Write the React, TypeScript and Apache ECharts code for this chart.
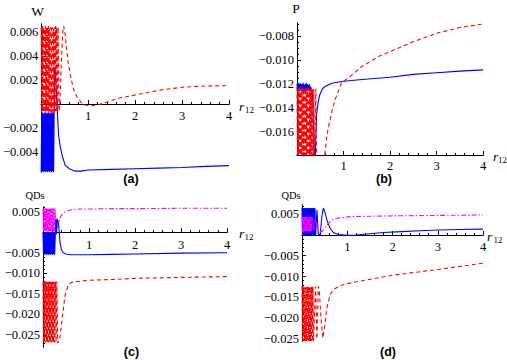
import React, { useEffect, useRef } from "react";
import * as echarts from "echarts";

// shared sampling positions of the dense oscillation near r12 = 0
const oscX = [0, 0.011, 0.022, 0.033, 0.044, 0.055, 0.066, 0.077, 0.088, 0.099, 0.11, 0.121, 0.132, 0.143, 0.154, 0.165, 0.176, 0.187, 0.198, 0.209, 0.22, 0.231, 0.242, 0.253, 0.264, 0.275, 0.286, 0.297, 0.308, 0.319, 0.33];

// ---------- panel (a): W ----------
const aRedOsc = [0.0064, -0.0007, 0.0065, -0.0006, 0.0064, -0.0007, 0.0063, -0.0007, 0.0065, -0.0007, 0.0064, -0.0006, 0.0064, -0.0007, 0.0065, -0.0007, 0.0063, -0.0006, 0.0064, -0.0007, 0.0065, -0.0007, 0.0064, -0.0006, 0.0063, -0.0007, 0.0064, -0.0006, 0.0065, -0.0007, 0.0064];
const aRedTailX = [0.345, 0.36, 0.38, 0.4, 0.43, 0.46, 0.48, 0.51, 0.55, 0.58, 0.65, 0.7, 0.76, 0.86, 0.95, 1.05, 1.2, 1.35, 1.63, 2.0, 2.55, 3.0, 3.5, 4.0];
const aRedTailY = [-0.0006, 0.0064, -0.0006, 0.0002, 0.0035, 0.006, 0.0065, 0.0058, 0.0043, 0.0033, 0.0019, 0.0011, 0.0006, 0.0001, -0.0001, -0.00015, -0.00008, 0.0001, 0.00047, 0.00075, 0.00117, 0.0014, 0.0015, 0.00153];
const aBlueOsc = [-0.0057, -0.0007, -0.0056, -0.0007, -0.0057, -0.0008, -0.0056, -0.0007, -0.0057, -0.0007, -0.0056, -0.0008, -0.0057, -0.0007, -0.0056, -0.0007, -0.0057, -0.0008, -0.0056, -0.0007, -0.0057, -0.0007, -0.0056, -0.0007];
const aBlueTailX = [0.265, 0.285, 0.3, 0.32, 0.34, 0.37, 0.4, 0.44, 0.51, 0.6, 0.72, 0.85, 1.0, 1.5, 2.0, 2.5, 3.0, 3.5, 4.0];
const aBlueTailY = [-0.0057, 0.0031, 0.0028, 0.0013, -0.0003, -0.0026, -0.0034, -0.0042, -0.0051, -0.0054, -0.0056, -0.0056, -0.0055, -0.00545, -0.0054, -0.00535, -0.0053, -0.0052, -0.00514];
const aYTicks = [-0.004, -0.002, 0.002, 0.004, 0.006];

// ---------- panel (b): P ----------
const bBlueOsc = [-0.012, -0.0126, -0.0119, -0.0125, -0.0121, -0.0126, -0.0119, -0.0125, -0.012, -0.0126, -0.012, -0.0125, -0.0119, -0.0126, -0.0121, -0.0125, -0.012, -0.0126, -0.0119, -0.0125, -0.012, -0.0126, -0.0121, -0.0125, -0.012, -0.0126, -0.0122];
const bBlueTailX = [0.3, 0.33, 0.355, 0.37, 0.39, 0.42, 0.46, 0.49, 0.55, 0.6, 0.75, 0.96, 1.4, 2.0, 2.5, 3.0, 3.5, 4.0];
const bBlueTailY = [-0.0124, -0.0126, -0.015, -0.0185, -0.0185, -0.0146, -0.0134, -0.0129, -0.0124, -0.01222, -0.01194, -0.0118, -0.01163, -0.01144, -0.0112, -0.01106, -0.01093, -0.01083];
const bRedOsc = [-0.0123, -0.0185, -0.0124, -0.0185, -0.0123, -0.0185, -0.0124, -0.0185, -0.0123, -0.0185, -0.0123, -0.0185, -0.0124, -0.0185, -0.0123, -0.0185, -0.0124, -0.0185, -0.0123, -0.0185, -0.0123, -0.0185, -0.0124, -0.0185, -0.0123, -0.0185, -0.0124, -0.0185, -0.0123, -0.0185, -0.0124];
const bRedTailX = [0.345, 0.36, 0.375, 0.39, 0.405, 0.42, 0.57, 0.6, 0.64, 0.67, 0.75, 0.82, 0.96, 1.2, 1.39, 1.75, 2.0, 2.32, 2.5, 3.0, 3.5, 4.0];
const bRedTailY = [-0.0185, -0.0124, -0.0185, -0.0185, -0.0124, -0.0185, -0.0185, -0.0178, -0.0164, -0.0157, -0.0143, -0.0133, -0.0119, -0.0112, -0.01056, -0.00972, -0.0093, -0.00878, -0.00848, -0.00778, -0.0073, -0.007];
const bYTicks = [-0.016, -0.014, -0.012, -0.01, -0.008];

// ---------- panel (c): QDs ----------
const cMagOsc = [0.0057, 0.0002, 0.0058, 0.0001, 0.0057, 0.0002, 0.0058, 0.0002, 0.0057, 0.0001, 0.0058, 0.0002, 0.0057, 0.0002, 0.0058, 0.0001, 0.0057, 0.0002, 0.0058, 0.0002, 0.0057, 0.0001, 0.0058, 0.0002, 0.0057];
const cMagTailX = [0.275, 0.3, 0.33, 0.38, 0.43, 0.49, 0.57, 0.66, 0.8, 1.0, 1.5, 2.1, 3.0, 4.0];
const cMagTailY = [0.0003, 0.0012, 0.0014, 0.0038, 0.0045, 0.005, 0.0053, 0.0055, 0.0056, 0.0056, 0.0057, 0.0057, 0.0058, 0.0058];
const cBlueOsc = [0.0, -0.0054, -0.0001, -0.0055, 0.0, -0.0054, -0.0001, -0.0055, 0.0, -0.0054, 0.0, -0.0055, -0.0001, -0.0054, 0.0, -0.0055, 0.0, -0.0054, -0.0001, -0.0055, 0.0, -0.0054, 0.0, -0.0055];
const cBlueTailX = [0.265, 0.28, 0.295, 0.31, 0.33, 0.35, 0.37, 0.4, 0.44, 0.5, 0.59, 0.75, 1.0, 1.5, 2.0, 3.0, 4.0];
const cBlueTailY = [-0.0054, 0.0033, -0.0005, 0.0032, 0.0025, 0.0005, -0.0025, -0.0042, -0.005, -0.0053, -0.0055, -0.0055, -0.0055, -0.0054, -0.0053, -0.0051, -0.005];
const cRedOsc = [-0.012, -0.0268, -0.0121, -0.0267, -0.012, -0.0268, -0.012, -0.0267, -0.0121, -0.0268, -0.012, -0.0268, -0.012, -0.0267, -0.0121, -0.0268, -0.012, -0.0268, -0.012, -0.0267, -0.0121, -0.0268, -0.012];
const cRedTailX = [0.255, 0.27, 0.285, 0.3, 0.32, 0.36, 0.41, 0.45, 0.48, 0.55, 0.62, 0.73, 1.0, 1.5, 2.1, 3.0, 4.0];
const cRedTailY = [-0.0268, -0.012, -0.0268, -0.012, -0.027, -0.0262, -0.0217, -0.018, -0.0153, -0.0128, -0.0122, -0.012, -0.0117, -0.0115, -0.0112, -0.011, -0.0108];
const cYTicks = [-0.025, -0.02, -0.015, -0.01, -0.005, 0.005];

// ---------- panel (d): QDs ----------
const dBlueOsc = [0.0065, -0.0002, 0.0064, -0.0002, 0.0065, -0.0001, 0.0065, -0.0002, 0.0064, -0.0002, 0.0065, -0.0001, 0.0065, -0.0002, 0.0064, -0.0002, 0.0065, -0.0001, 0.0065, -0.0002, 0.0064, -0.0002, 0.0065, -0.0001, 0.0065, -0.0002, 0.0064];
const dBlueTailX = [0.3, 0.33, 0.36, 0.4, 0.44, 0.47, 0.5, 0.55, 0.62, 0.69, 0.8, 1.0, 1.2, 1.5, 1.8, 2.2, 2.6, 3.0, 3.5, 4.0];
const dBlueTailY = [-0.0002, 0.006, 0.0002, 0.0, 0.0045, 0.0064, 0.0058, 0.0036, 0.0016, 0.0006, 0.0001, -0.0001, 0.0, 0.0003, 0.0006, 0.0008, 0.001, 0.0012, 0.0013, 0.0014];
const dMagOsc = [0.0044, 0.0008, 0.0043, 0.0008, 0.0044, 0.0009, 0.0044, 0.0008, 0.0043, 0.0008, 0.0044, 0.0009, 0.0044, 0.0008, 0.0043, 0.0008, 0.0044, 0.0009, 0.0044, 0.0008];
const dMagTailX = [0.22, 0.26, 0.3, 0.35, 0.4, 0.44, 0.5, 0.55, 0.66, 0.77, 1.06, 1.5, 2.17, 3.0, 4.0];
const dMagTailY = [0.0044, 0.001, 0.004, 0.0012, 0.0008, 0.0008, 0.0016, 0.0024, 0.0036, 0.004, 0.0044, 0.0045, 0.0046, 0.0047, 0.0048];
const dRedOsc = [-0.0124, -0.0256, -0.0125, -0.0255, -0.0124, -0.0256, -0.0124, -0.0255, -0.0125, -0.0256, -0.0124, -0.0256, -0.0124, -0.0255, -0.0125, -0.0256, -0.0124, -0.0256, -0.0124, -0.0255, -0.0125, -0.0256, -0.0124, -0.0256];
const dRedTailX = [0.265, 0.3, 0.33, 0.36, 0.38, 0.42, 0.46, 0.5, 0.55, 0.62, 0.69, 0.84, 1.0, 1.43, 2.0, 3.0, 4.0];
const dRedTailY = [-0.0256, -0.0124, -0.025, -0.0124, -0.013, -0.02, -0.0248, -0.022, -0.0176, -0.0144, -0.0132, -0.0122, -0.0117, -0.0108, -0.0097, -0.0083, -0.0068];
const dYTicks = [-0.025, -0.02, -0.015, -0.01, -0.005, 0.005];

const xTicks = [1, 2, 3, 4];

const RED = "#ff0000";
const BLUE = "#0000ff";
const MAG = "#ff00ff";
const SERIF = "'Liberation Serif', 'Times New Roman', serif";

function join(osc: number[], tx: number[], ty: number[]) {
  const pts: number[][] = osc.map((y, i) => [oscX[i], y]);
  tx.forEach((x, i) => pts.push([x, ty[i]]));
  return pts;
}

function minorTicks(min: number, max: number, step: number, majors: number[]) {
  const out: number[] = [];
  const start = Math.ceil(min / step - 1e-9);
  const end = Math.floor(max / step + 1e-9);
  for (let k = start; k <= end; k++) {
    const v = +(k * step).toFixed(6);
    if (Math.abs(v) < 1e-9) continue;
    if (majors.some((m) => Math.abs(m - v) < step / 10)) continue;
    out.push(v);
  }
  return out;
}

const fmtY = (v: number) => (v < 0 ? "\u2212" + (-v).toFixed(3) : v.toFixed(3));

type Panel = {
  grid: { left: number; top: number; width: number; height: number };
  ymin: number;
  ymax: number;
  yTicks: number[];
  yMinorStep: number;
  xLabelMargin: number;
  series: { data: number[][]; color: string; dash: any }[];
};

const DASH = [4, 3];
const DASHDOT = [5, 2, 1.5, 2];

const panels: Panel[] = [
  {
    grid: { left: 39, top: 24, width: 190, height: 148 },
    ymin: -0.00567, ymax: 0.00667, yTicks: aYTicks, yMinorStep: 0.0005, xLabelMargin: 6,
    series: [
      { data: join(aBlueOsc, aBlueTailX, aBlueTailY), color: BLUE, dash: "solid" },
      { data: join(aRedOsc, aRedTailX, aRedTailY), color: RED, dash: DASH },
    ],
  },
  {
    grid: { left: 297, top: 23, width: 186, height: 132 },
    ymin: -0.01792, ymax: -0.00692, yTicks: bYTicks, yMinorStep: 0.0005, xLabelMargin: 4,
    series: [
      { data: join(bBlueOsc, bBlueTailX, bBlueTailY), color: BLUE, dash: "solid" },
      { data: join(bRedOsc, bRedTailX, bRedTailY), color: RED, dash: DASH },
    ],
  },
  {
    grid: { left: 43, top: 207, width: 184, height: 140 },
    ymin: -0.0279, ymax: 0.0061, yTicks: cYTicks, yMinorStep: 0.001, xLabelMargin: 6,
    series: [
      { data: join(cMagOsc, cMagTailX, cMagTailY), color: MAG, dash: DASHDOT },
      { data: join(cBlueOsc, cBlueTailX, cBlueTailY), color: BLUE, dash: "solid" },
      { data: join(cRedOsc, cRedTailX, cRedTailY), color: RED, dash: DASH },
    ],
  },
  {
    grid: { left: 302, top: 205, width: 181, height: 136 },
    ymin: -0.0255, ymax: 0.0072, yTicks: dYTicks, yMinorStep: 0.001, xLabelMargin: 6,
    series: [
      { data: join(dBlueOsc, dBlueTailX, dBlueTailY), color: BLUE, dash: "solid" },
      { data: join(dMagOsc, dMagTailX, dMagTailY), color: MAG, dash: DASHDOT },
      { data: join(dRedOsc, dRedTailX, dRedTailY), color: RED, dash: DASH },
    ],
  },
];

function txt(text: string, x: number, y: number, font: any) {
  return {
    type: "text",
    x,
    y,
    silent: true,
    style: {
      text,
      fill: "#000",
      textAlign: "center",
      textVerticalAlign: "middle",
      align: "center",
      verticalAlign: "middle",
      ...font,
    },
  };
}

export default function App() {
  const ref = useRef<HTMLDivElement>(null);
  useEffect(() => {
    if (!ref.current) return;
    const chart = echarts.init(ref.current, null, { renderer: "svg" });
    const grids: any[] = [];
    const xAxes: any[] = [];
    const yAxes: any[] = [];
    const series: any[] = [];
    const axisLine = { onZero: false, lineStyle: { color: "#000", width: 1 } };
    const labelStyle = { fontFamily: SERIF, fontSize: 12.5, color: "#000" };
    const xMinor = minorTicks(0, 4, 0.2, xTicks);
    panels.forEach((p, i) => {
      grids.push({ ...p.grid, containLabel: false });
      const yMinor = minorTicks(p.ymin, p.ymax, p.yMinorStep, p.yTicks);
      // the horizontal axis crosses at y = 0 when 0 lies in the range (Mathematica style)
      const zeroFrac = p.ymin < 0 && p.ymax > 0 ? (0 - p.ymin) / (p.ymax - p.ymin) : 0;
      const xOffset = -zeroFrac * p.grid.height;
      xAxes.push({
        gridIndex: i, type: "value", min: 0, max: 4, position: "bottom", offset: xOffset,
        axisLine,
        axisTick: { inside: true, length: 4, customValues: xTicks, lineStyle: { color: "#000" } },
        axisLabel: { customValues: xTicks, margin: p.xLabelMargin, ...labelStyle, formatter: (v: number) => String(v) },
        splitLine: { show: false },
      });
      xAxes.push({
        gridIndex: i, type: "value", min: 0, max: 4, position: "bottom", offset: xOffset,
        axisLine,
        axisTick: { inside: true, length: 2, customValues: xMinor, lineStyle: { color: "#000" } },
        axisLabel: { show: false },
        splitLine: { show: false },
      });
      yAxes.push({
        gridIndex: i, type: "value", min: p.ymin, max: p.ymax, position: "left",
        axisLine,
        axisTick: { inside: true, length: 4, customValues: p.yTicks, lineStyle: { color: "#000" } },
        axisLabel: { customValues: p.yTicks, margin: 3, ...labelStyle, formatter: fmtY },
        splitLine: { show: false },
      });
      yAxes.push({
        gridIndex: i, type: "value", min: p.ymin, max: p.ymax, position: "left",
        axisLine,
        axisTick: { inside: true, length: 2, customValues: yMinor, lineStyle: { color: "#000" } },
        axisLabel: { show: false },
        splitLine: { show: false },
      });
      p.series.forEach((s) => {
        series.push({
          type: "line",
          xAxisIndex: 2 * i,
          yAxisIndex: 2 * i,
          data: s.data,
          symbol: "none",
          showSymbol: false,
          clip: true,
          silent: true,
          lineStyle: { color: s.color, width: 1.1, type: s.dash },
        });
      });
    });

    const ital = { fontFamily: SERIF, fontSize: 13.5, fontStyle: "italic" };
    const sub = { fontFamily: SERIF, fontSize: 9 };
    const ax = { fontFamily: SERIF, fontSize: 13.5 };
    const tag = { fontFamily: "'Liberation Sans', Arial, sans-serif", fontSize: 12.5, fontWeight: "bold" };

    chart.setOption({
      animation: false,
      backgroundColor: "#ffffff",
      grid: grids,
      xAxis: xAxes,
      yAxis: yAxes,
      series,
      graphic: [
        txt("W", 37.5, 11, ax),
        txt("P", 296, 8, ax),
        txt("QDs", 35, 195, { fontFamily: SERIF, fontSize: 10.5 }),
        txt("QDs", 291, 195, { fontFamily: SERIF, fontSize: 10.5 }),
        txt("r", 241.5, 106, ital), txt("12", 249.5, 110, sub),
        txt("r", 495.5, 156, ital), txt("12", 502.5, 160, sub),
        txt("r", 241.5, 233, ital), txt("12", 249, 237, sub),
        txt("r", 489.5, 236, ital), txt("12", 498, 240, sub),
        txt("(a)", 131, 179, tag),
        txt("(b)", 384, 179, tag),
        txt("(c)", 131.5, 352, tag),
        txt("(d)", 388, 352, tag),
      ],
    });
    return () => chart.dispose();
  }, []);
  return (
    <div
      ref={ref}
      style={{ position: "absolute", left: 0, top: 0, width: 507, height: 360, background: "#fff" }}
    />
  );
}
